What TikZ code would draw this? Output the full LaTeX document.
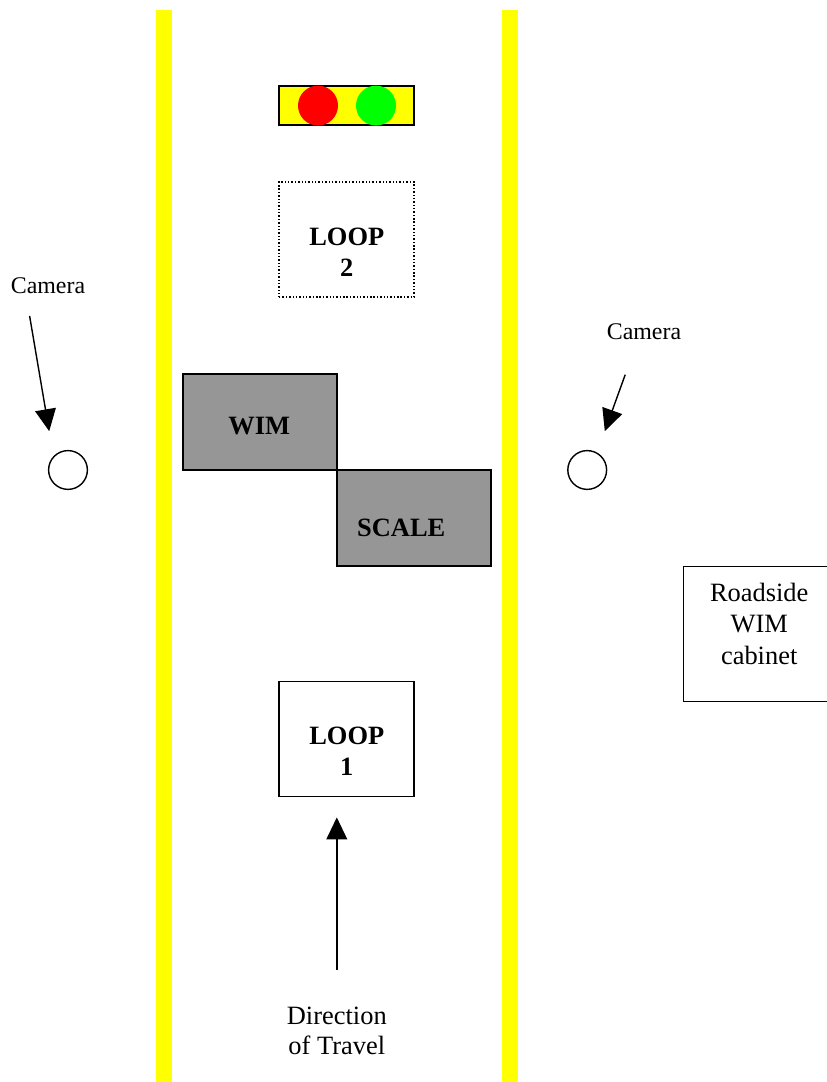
\documentclass[tikz,border=0pt]{standalone}
\usepackage{fontspec}
\setmainfont{Liberation Serif}
\usetikzlibrary{arrows.meta, calc}
\definecolor{roadyellow}{RGB}{255, 255, 0}
\definecolor{sensorgray}{RGB}{150, 150, 150}
\definecolor{lampred}{RGB}{255, 0, 0}
\definecolor{lampgreen}{RGB}{0, 255, 0}
\tikzset{
  edgeline/.style   = {fill=roadyellow},
  box/.style        = {rectangle, draw=black, line width=1pt, inner sep=0pt},
  loopbox/.style    = {box, minimum width=3.375cm, minimum height=2.875cm},
  sensor/.style     = {box, fill=sensorgray, minimum width=3.85cm, minimum height=2.4cm},
  lamp/.style       = {circle, minimum size=1cm, inner sep=0pt},
  camdot/.style     = {circle, draw=black, line width=1pt, minimum size=0.97cm, inner sep=0pt},
  boldtext/.style   = {align=center, inner sep=0pt, font=\fontsize{18.8}{22}\selectfont\bfseries},
  plaintext/.style  = {align=center, inner sep=0pt, font=\fontsize{18.8}{22.5}\selectfont},
  camtext/.style    = {inner sep=0pt, font=\fontsize{17}{20}\selectfont},
  flow/.style       = {-{Triangle[length=0.55cm, width=0.52cm]}, line width=1pt},
}
\begin{document}
\begin{tikzpicture}
  \useasboundingbox (0,0) rectangle (20.675,27.05);
  \fill[white] (0,0) rectangle (20.675,27.05);

  \fill[edgeline] (3.9,0) rectangle (4.3,26.8);
  \fill[edgeline] (12.55,0) rectangle (12.95,26.8);

  \node[box, fill=roadyellow, minimum width=3.375cm, minimum height=0.975cm] (signal) at (8.6625,24.41) {};
  \node[lamp, fill=lampred] (redlamp) at (7.95,24.41) {};
  \node[lamp, fill=lampgreen] (greenlamp) at (9.4,24.41) {};

  \node[loopbox, dash pattern=on 1pt off 1.4pt] (looptwo) at (8.6625,21.06) {};
  \node[boldtext] (looptwotext) at (8.67,20.75) {LOOP\\2};

  \node[sensor] (wim) at (6.5,16.5) {};
  \node[boldtext] (wimtext) at (6.48,16.39) {WIM};
  \node[sensor] (scale) at (10.35,14.1) {};
  \node[boldtext] (scaletext) at (10.03,13.85) {SCALE};

  \node[loopbox] (loopone) at (8.6625,8.57) {};
  \node[boldtext] (loopnetext) at (8.67,8.265) {LOOP\\1};

  \node[box, anchor=north west, minimum width=3.65cm, minimum height=3.375cm] (cabinet) at (17.07,12.9) {};
  \node[plaintext] (cabinettext) at (18.98,11.46) {Roadside\\WIM\\cabinet};

  \node[camdot] (camleft) at (1.7,15.3) {};
  \node[camdot] (camright) at (14.68,15.3) {};
  \node[camtext] (camlefttext) at (1.2,19.9) {Camera};
  \node[camtext] (camrighttext) at (16.1,18.75) {Camera};
  \draw[flow] ($(camlefttext.south)+(-0.46,-0.54)$) -- ($(camleft)+(-0.47,0.97)$);
  \draw[flow] ($(camrighttext.south)+(-0.47,-0.86)$) -- ($(camright)+(0.44,0.97)$);

  \node[plaintext] (traveltext) at (8.42,1.28) {Direction\\[-1.2pt]of Travel};
  \draw[flow] ($(traveltext.north)+(0,0.92)$) -- ($(traveltext.north |- loopone.south)+(0,-0.5)$);
\end{tikzpicture}
\end{document}
